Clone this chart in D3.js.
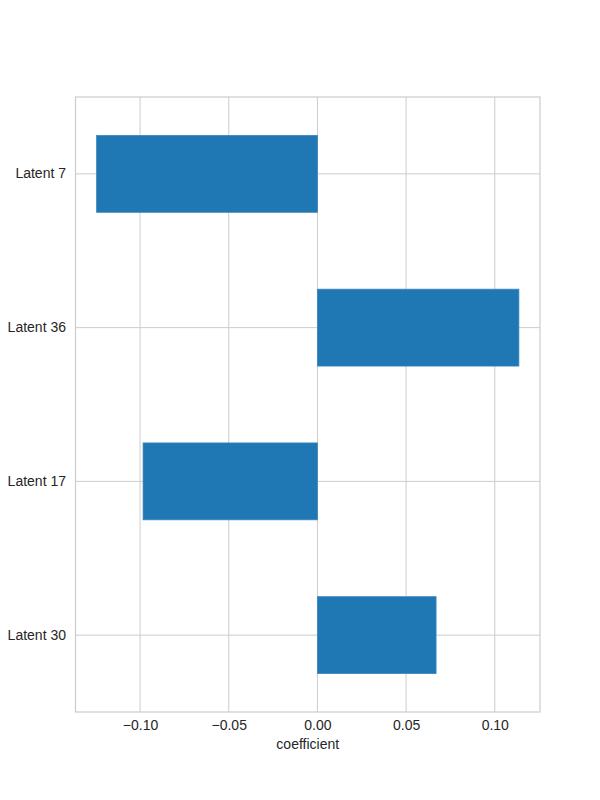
<!DOCTYPE html>
<html><head><meta charset="utf-8">
<script src="https://cdn.jsdelivr.net/npm/d3@7"></script>
<style>body{margin:0;background:#fff;} text{font-family:"Liberation Sans",Arial,sans-serif;fill:#262626;}</style>
</head><body>
<svg id="c" width="600" height="800"></svg>
<script>
const categories = ["Latent 7", "Latent 36", "Latent 17", "Latent 30"];
const values = [-0.1245, 0.1136, -0.0983, 0.0669];
const xTicks = [-0.10, -0.05, 0.00, 0.05, 0.10];
const xLabel = "coefficient";

const svg = d3.select("#c");
const L = 75.5, R = 540, T = 97, B = 712;
const lo = d3.min(values.concat([0])), hi = d3.max(values.concat([0]));
const pad = (hi - lo) * 0.05;
const x = d3.scaleLinear().domain([lo - pad, hi + pad]).range([L, R]);
const y = d3.scaleBand().domain(categories).range([T, B]).paddingInner(0.5).paddingOuter(0.25);

// grid
svg.append("g").selectAll("line").data(xTicks).join("line")
  .attr("x1", d => x(d)).attr("x2", d => x(d)).attr("y1", T).attr("y2", B)
  .attr("stroke", "#cccccc").attr("stroke-width", 1);
svg.append("g").selectAll("line").data(categories).join("line")
  .attr("x1", L).attr("x2", R).attr("y1", d => y(d) + y.bandwidth()/2).attr("y2", d => y(d) + y.bandwidth()/2)
  .attr("stroke", "#cccccc").attr("stroke-width", 1);

// bars
svg.append("g").selectAll("rect").data(values).join("rect")
  .attr("x", d => x(Math.min(0, d))).attr("width", d => Math.abs(x(d) - x(0)))
  .attr("y", (d, i) => y(categories[i])).attr("height", y.bandwidth())
  .attr("fill", "#1f77b4").attr("stroke", "#3a87bd").attr("stroke-width", 0.8);

// frame
svg.append("rect").attr("x", L).attr("y", T).attr("width", R - L).attr("height", B - T)
  .attr("fill", "none").attr("stroke", "#cccccc").attr("stroke-width", 1.2);

// axes
const xa = svg.append("g").attr("transform", `translate(0,${B})`)
  .call(d3.axisBottom(x).tickValues(xTicks).tickSize(0).tickPadding(8).tickFormat(d3.format(".2f")));
xa.select(".domain").remove();
xa.selectAll("text").attr("font-size", 14).style("fill", "#262626")
  .text(d => d3.format(".2f")(d).replace("-", "\u2212"));
const ya = svg.append("g").attr("transform", `translate(${L},0)`)
  .call(d3.axisLeft(y).tickSize(0).tickPadding(9.5));
ya.select(".domain").remove();
ya.selectAll("text").attr("font-size", 14).style("fill", "#262626");

svg.append("text").attr("x", (L + R) / 2).attr("y", 749).attr("text-anchor", "middle")
  .attr("font-size", 14).text(xLabel);
</script>
</body></html>
